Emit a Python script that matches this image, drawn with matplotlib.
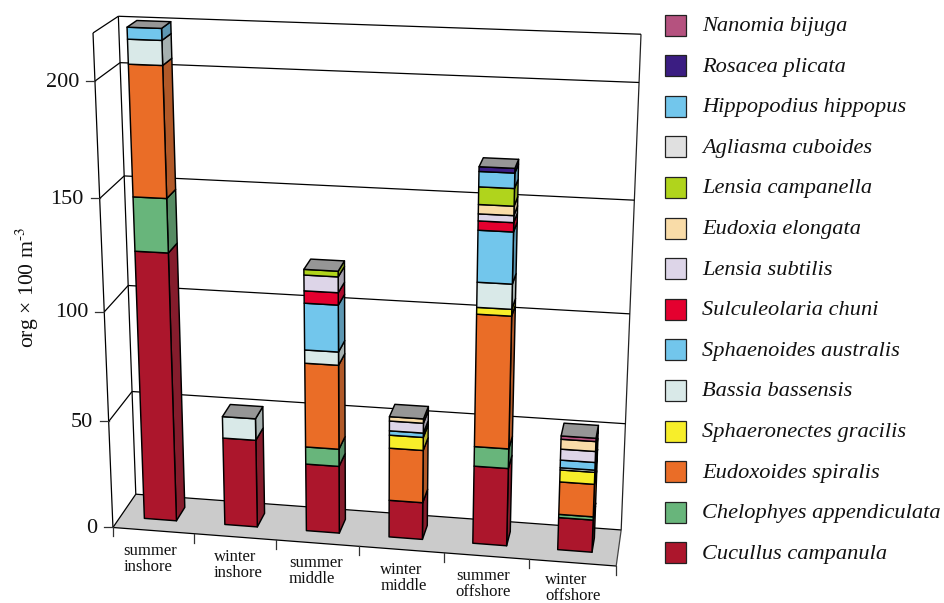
import numpy as np
import matplotlib
matplotlib.use('Agg')
import matplotlib.pyplot as plt
from matplotlib.patches import Polygon, Rectangle

plt.rcParams['font.family'] = ['Liberation Serif', 'DejaVu Serif']
plt.rcParams['mathtext.fontset'] = 'stix'

# categories and species, bottom of the stack first
sites = ['summer\ninshore', 'winter\ninshore', 'summer\nmiddle',
         'winter\nmiddle', 'summer\noffshore', 'winter\noffshore']
species = ['Cucullus campanula', 'Chelophyes appendiculata', 'Eudoxoides spiralis',
           'Sphaeronectes gracilis', 'Bassia bassensis', 'Sphaenoides australis',
           'Sulculeolaria chuni', 'Lensia subtilis', 'Eudoxia elongata',
           'Lensia campanella', 'Agliasma cuboides', 'Hippopodius hippopus',
           'Rosacea plicata', 'Nanomia bijuga']
colors = ['#AC162C', '#68B57B', '#EA6D27', '#F7EE2A', '#D9E9E8', '#72C6EC', '#E4002F',
          '#DDD5E8', '#F9DCA8', '#B0D41C', '#E0E0E0', '#72C6EC', '#3B1D82', '#B5527F']

cucullus = [124, 41, 31.5, 17.3, 36, 15]
chelophyes = [24, 0, 8, 0, 9, 1.5]
eudoxoides = [57, 0, 38.5, 24.3, 59.5, 15]
sphaeronectes = [0, 0, 0, 6, 3, 5.5]
bassia = [10.5, 10, 6, 0, 11, 1]
sphaenoides = [5, 0, 21, 2, 22.5, 3.5]
sulculeolaria = [0, 0, 5.5, 0, 4, 0]
subtilis = [0, 0, 7, 4.5, 3, 5]
elongata = [0, 0, 0, 2, 4, 4.5]
campanella = [0, 0, 2.5, 0, 7.5, 0]
agliasma = [0, 0, 0, 0, 0, 0]
hippopodius = [0, 0, 0, 0, 6.5, 0]
rosacea = [0, 0, 0, 0, 2, 0]
nanomia = [0, 0, 0, 0, 0, 1.5]
table = np.array([cucullus, chelophyes, eudoxoides, sphaeronectes, bassia, sphaenoides,
                  sulculeolaria, subtilis, elongata, campanella, agliasma, hippopodius,
                  rosacea, nanomia], dtype=float)

yticks = [0, 50, 100, 150, 200]
ymax = 220
bar_w = 0.4
z0, z1 = 0.32, 0.72

# pseudo 3d: fit a camera matrix to where the box corners sit in the picture
# (category, value, depth) -> (px, py)
anchors = [(0, 0, 0, 113, 527), (0, 50, 0, 109, 421), (0, 100, 0, 104, 312), (0, 200, 0, 95, 81),
           (0, ymax, 0, 93, 33), (6, 0, 0, 616, 567), (0, 0, 1, 136, 495), (6, 0, 1, 621, 530),
           (0, 200, 1, 120, 63), (0, ymax, 1, 118, 16), (6, ymax, 1, 641, 35),
           (6, 50, 1, 625, 423), (6, 100, 1, 630, 313), (6, 150, 1, 635, 200)]
A, b = [], []
for cx, cv, cz, px, py in anchors:
    cv = cv / 100
    A.append([cx, cv, cz, 1, 0, 0, 0, 0, -px * cx, -px * cv, -px * cz])
    A.append([0, 0, 0, 0, cx, cv, cz, 1, -py * cx, -py * cv, -py * cz])
    b += [px, py]
P = np.append(np.linalg.lstsq(np.array(A, float), np.array(b, float), rcond=None)[0], 1).reshape(3, 4)


def proj(x, v, z):
    h = P @ np.array([x, v / 100, z, 1.0])
    return h[0] / h[2], h[1] / h[2]


def shade(c, f=0.7):
    return tuple(f * k + 0.05 for k in matplotlib.colors.to_rgb(c))


fig = plt.figure(figsize=(9.44, 6.03), dpi=100)
ax = fig.add_axes([0, 0, 1, 1])
ax.set_xlim(0, 944)
ax.set_ylim(603, 0)
ax.axis('off')


def line(p, q, lw=0.9, color='black', zo=1):
    ax.plot(*zip(proj(*p), proj(*q)), color=color, lw=lw, zorder=zo, solid_capstyle='butt')


def face(pts, fc, zo=3):
    ax.add_patch(Polygon([proj(*p) for p in pts], closed=True, facecolor=fc, edgecolor='black',
                         lw=1.05, joinstyle='round', zorder=zo))


# floor and walls
n = len(sites)
ax.add_patch(Polygon([proj(0, 0, 0), proj(n, 0, 0), proj(n, 0, 1), proj(0, 0, 1)],
                     closed=True, facecolor='#CBCBCB', edgecolor='none', zorder=0))
line((0, 0, 0), (n, 0, 0))
line((0, 0, 0), (0, 0, 1))
line((n, 0, 0), (n, 0, 1), color='#444444')
line((0, 0, 1), (n, 0, 1))
line((0, 0, 0), (0, ymax, 0))
line((0, 0, 1), (0, ymax, 1))
line((n, 0, 1), (n, ymax, 1), color='#222222')
line((0, ymax, 0), (0, ymax, 1))
line((0, ymax, 1), (n, ymax, 1))
for t in yticks[1:]:
    line((0, t, 0), (0, t, 1))
    line((0, t, 1), (n, t, 1))
for t in yticks:
    px, py = proj(0, t, 0)
    ax.plot([px - 9, px], [py, py], color='#333333', lw=0.9, zorder=1)
    ax.text(px - 16, py + 1, str(t), ha='right', va='center', fontsize=16, color='#111111')
for i in range(n + 1):
    px, py = proj(i, 0, 0)
    ax.plot([px, px], [py, py + 9], color='#333333', lw=0.9, zorder=1)

ax.text(27, 287, r'org × 100 m$^{\text{-}3}$', rotation=90, ha='center', va='center', fontsize=15.7,
        color='#111111')

# bars
label_nudge = [-3, 3, -2, 2, -3, 0]
label_lift = [0, 0, 0, 0, 0, 3]
for i in range(n):
    x0, x1 = i + 0.5 - bar_w / 2, i + 0.5 + bar_w / 2
    base = 0
    for k in range(len(species)):
        val = table[k, i]
        if val == 0:
            continue
        top = base + val
        face([(x1, base, z0), (x1, base, z1), (x1, top, z1), (x1, top, z0)], shade(colors[k]), 3 + k * 0.01)
        face([(x0, base, z0), (x1, base, z0), (x1, top, z0), (x0, top, z0)], colors[k], 3.5 + k * 0.01)
        base = top
    face([(x0, base, z0), (x1, base, z0), (x1, base, z1), (x0, base, z1)], '#969696', 4)

    px, py = proj(i + 0.5, 0, 0)
    ax.text(px + label_nudge[i], py + 28 - label_lift[i], sites[i], ha='center', va='center',
            multialignment='left', fontsize=12, linespacing=1.0, color='#111111')

# legend, top row is the top of the stack
for r, k in enumerate(range(len(species) - 1, -1, -1)):
    cy = 25 + 40.6 * r
    ax.add_patch(Rectangle((665, cy - 10.5), 21, 21, facecolor=colors[k], edgecolor='#222222', lw=0.9))
    ax.text(702, cy + 1.5, species[k], style='italic', ha='left', va='center', fontsize=16.1, color='#111111')

fig.savefig('out.png', dpi=100)
